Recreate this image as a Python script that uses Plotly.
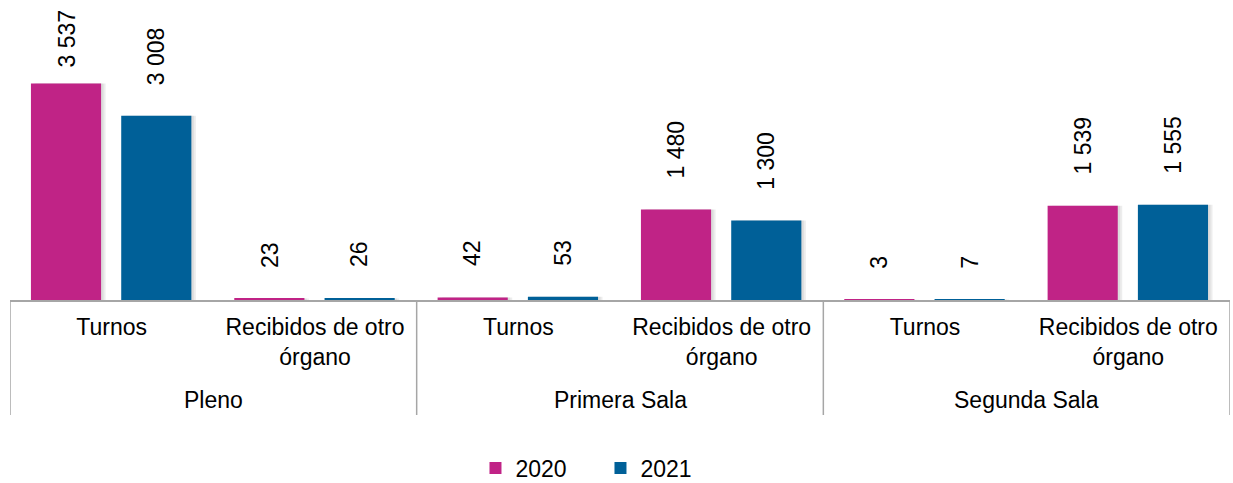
import plotly.graph_objects as go

groups = ["Pleno", "Primera Sala", "Segunda Sala"]
subcats = ["Turnos", "Recibidos de otro<br>órgano"]
years = ["2020", "2021"]
v2020 = [3537, 23, 42, 1480, 3, 1539]
v2021 = [3008, 26, 53, 1300, 7, 1555]
colors = ["#C02386", "#006098"]

def fmt(v):
    return f"{v:,}".replace(",", " ")

FS = 23
YMAX = 4900
PLOT_H = 300
LINE = "#A6A6A6"

n_sub = len(subcats)
xpos = list(range(len(groups) * n_sub))
ticktext = subcats * len(groups)

fig = go.Figure()
offsets = [-0.397, 0.047]
width = 0.345
for vals, name, col, off in zip([v2020, v2021], years, colors, offsets):
    for k in range(2):
        fig.add_trace(go.Bar(x=xpos, y=vals, offset=off + 0.012 + 0.01 * k, width=width,
                             marker=dict(color="rgba(0,0,0,0.07)", line=dict(width=0)),
                             showlegend=False, hoverinfo="skip"))
    fig.add_trace(go.Bar(x=xpos, y=vals, name=name, offset=off, width=width,
                         marker=dict(color=col, line=dict(width=0))))

annos = []
for vals, off in zip([v2020, v2021], offsets):
    for i, v in enumerate(vals):
        txt = fmt(v)
        est_len = 0.556 * FS * len(txt.replace(" ", "")) + 0.278 * FS * txt.count(" ")
        top_px = v / YMAX * PLOT_H + 30 + est_len
        if top_px > PLOT_H:
            annos.append(dict(x=xpos[i] + off + width / 2, y=0.975, xref="x", yref="paper",
                              text=txt, textangle=-90, showarrow=False,
                              yanchor="top", font=dict(size=FS, color="#000000")))
        else:
            annos.append(dict(x=xpos[i] + off + width / 2, y=v, xref="x", yref="y",
                              text=txt, textangle=-90, showarrow=False,
                              yanchor="bottom", yshift=29,
                              font=dict(size=FS, color="#000000")))

# outer group labels
for g_i, g in enumerate(groups):
    center = g_i * n_sub + (n_sub - 1) / 2
    annos.append(dict(x=center, y=-100 / PLOT_H, xref="x", yref="paper", text=g,
                      showarrow=False, yanchor="middle",
                      font=dict(size=FS, color="#000000")))

shapes = []
for b in range(len(groups) + 1):
    xb = b * n_sub - 0.5
    shapes.append(dict(type="line", xref="x", yref="paper", x0=xb, x1=xb,
                       y0=0, y1=-115 / PLOT_H, line=dict(color=LINE, width=1.5)))

fig.update_layout(
    barmode="overlay",
    width=1233, height=483,
    margin=dict(l=10, r=3, t=0, b=183),
    paper_bgcolor="white", plot_bgcolor="white",
    font=dict(family="Liberation Sans, Arial, sans-serif", size=FS, color="#000000"),
    showlegend=True,
    legend=dict(orientation="h", x=0.484, xanchor="center", yref="container", y=0.031,
                yanchor="middle", font=dict(size=FS), traceorder="normal",
                itemwidth=30, entrywidth=80),
    annotations=annos,
    shapes=shapes,
    xaxis=dict(range=[-0.5, len(xpos) - 0.5], tickvals=xpos, ticktext=ticktext,
               showline=True, linecolor=LINE, linewidth=1.5,
               ticks="", tickfont=dict(size=FS), showgrid=False, zeroline=False,
               ticklabelstandoff=6),
    yaxis=dict(visible=False, range=[0, YMAX], showgrid=False, zeroline=False),
)
fig.write_html("out.html", post_script="document.body.style.margin='0';",
               config={"displayModeBar": False})
